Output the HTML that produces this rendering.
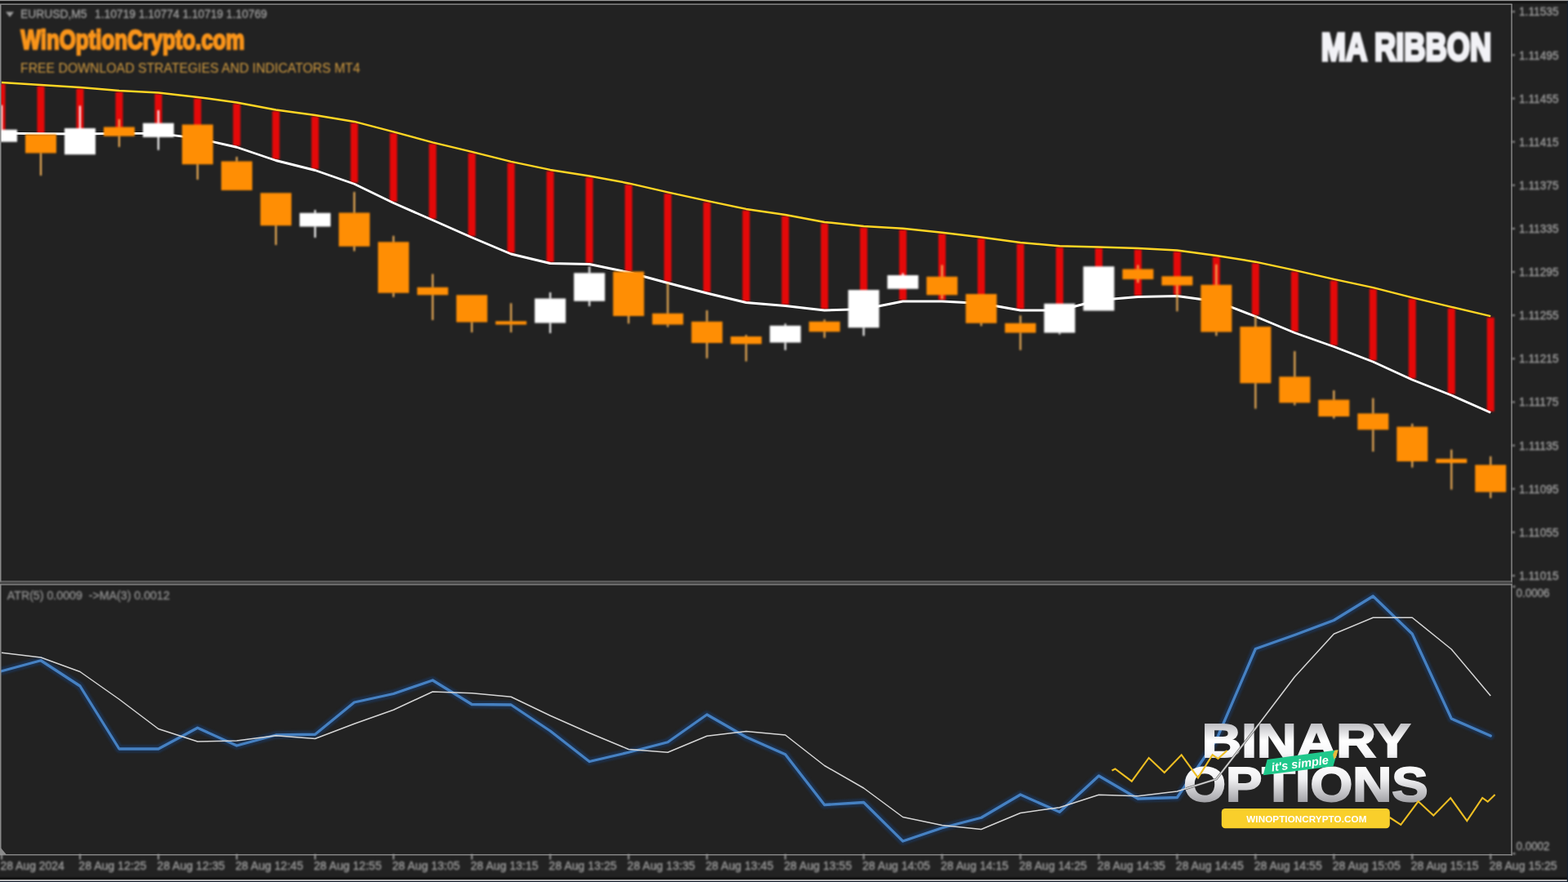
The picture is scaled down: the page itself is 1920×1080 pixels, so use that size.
<!DOCTYPE html>
<html lang="en"><head><meta charset="utf-8"><title>MA RIBBON - EURUSD,M5</title>
<style>
html,body{margin:0;padding:0;background:#222222;overflow:hidden}
body{width:1920px;height:1080px;position:relative}
svg{position:absolute;left:0;top:0;display:block}
text{font-family:"Liberation Sans","DejaVu Sans",sans-serif}
.ax{fill:#9E9E9E;font-size:14.4px;stroke:#9E9E9E;stroke-width:0.35px}
.imp{font-family:"Liberation Sans","DejaVu Sans",sans-serif;font-weight:700}
</style></head><body>
<svg width="1920" height="1080" viewBox="0 0 1920 1080">
<defs>
<linearGradient id="g1" x1="0" y1="0" x2="0" y2="1"><stop offset="0.12" stop-color="#b4b4b9"/><stop offset="0.5" stop-color="#ffffff"/><stop offset="0.75" stop-color="#f6f6f8"/><stop offset="0.95" stop-color="#c4c4c8"/></linearGradient>
<linearGradient id="g2" x1="0" y1="0" x2="0" y2="1"><stop offset="0.1" stop-color="#ffffff"/><stop offset="0.4" stop-color="#f0f0f2"/><stop offset="0.95" stop-color="#8e8e93"/></linearGradient>
<clipPath id="cm"><rect x="0" y="6" width="1851" height="706"/></clipPath>
<filter id="bl" x="0" y="0" width="1920" height="1080" filterUnits="userSpaceOnUse" color-interpolation-filters="sRGB"><feGaussianBlur stdDeviation="0.8"/></filter>
</defs>
<rect width="1920" height="1080" fill="#222222"/>
<g filter="url(#bl)">
<g clip-path="url(#cm)">
<rect x="-2.5" y="102.5" width="9" height="60.6" fill="#E40909"/>
<rect x="45.48" y="105.5" width="9" height="58.3" fill="#E40909"/>
<rect x="93.46" y="108.5" width="9" height="55.5" fill="#E40909"/>
<rect x="141.44" y="112.5" width="9" height="50.9" fill="#E40909"/>
<rect x="189.42" y="115" width="9" height="48.4" fill="#E40909"/>
<rect x="237.4" y="120.5" width="9" height="48.9" fill="#E40909"/>
<rect x="285.38" y="127" width="9" height="51.75" fill="#E40909"/>
<rect x="333.36" y="136" width="9" height="59" fill="#E40909"/>
<rect x="381.34" y="142.5" width="9" height="64.5" fill="#E40909"/>
<rect x="429.32" y="150.5" width="9" height="73.25" fill="#E40909"/>
<rect x="477.3" y="163" width="9" height="84" fill="#E40909"/>
<rect x="525.28" y="176" width="9" height="92" fill="#E40909"/>
<rect x="573.26" y="187.5" width="9" height="101.75" fill="#E40909"/>
<rect x="621.24" y="199.5" width="9" height="110" fill="#E40909"/>
<rect x="669.22" y="209.5" width="9" height="111.5" fill="#E40909"/>
<rect x="717.2" y="217" width="9" height="105" fill="#E40909"/>
<rect x="765.18" y="226" width="9" height="106" fill="#E40909"/>
<rect x="813.16" y="237" width="9" height="108" fill="#E40909"/>
<rect x="861.14" y="247.5" width="9" height="110" fill="#E40909"/>
<rect x="909.12" y="257.5" width="9" height="111.5" fill="#E40909"/>
<rect x="957.1" y="264.5" width="9" height="108.5" fill="#E40909"/>
<rect x="1005.08" y="273.5" width="9" height="105" fill="#E40909"/>
<rect x="1053.06" y="278.5" width="9" height="98.5" fill="#E40909"/>
<rect x="1101.04" y="281.25" width="9" height="86.25" fill="#E40909"/>
<rect x="1149.02" y="286.25" width="9" height="81.25" fill="#E40909"/>
<rect x="1197" y="292" width="9" height="78" fill="#E40909"/>
<rect x="1244.98" y="298.5" width="9" height="80" fill="#E40909"/>
<rect x="1292.96" y="302.75" width="9" height="75.75" fill="#E40909"/>
<rect x="1340.94" y="304" width="9" height="62" fill="#E40909"/>
<rect x="1388.92" y="305.5" width="9" height="56.5" fill="#E40909"/>
<rect x="1436.9" y="308" width="9" height="53" fill="#E40909"/>
<rect x="1484.88" y="314.5" width="9" height="53" fill="#E40909"/>
<rect x="1532.86" y="322.25" width="9" height="63.75" fill="#E40909"/>
<rect x="1580.84" y="332.5" width="9" height="73.5" fill="#E40909"/>
<rect x="1628.82" y="343.5" width="9" height="79.5" fill="#E40909"/>
<rect x="1676.8" y="353.75" width="9" height="87.75" fill="#E40909"/>
<rect x="1724.78" y="366" width="9" height="97.5" fill="#E40909"/>
<rect x="1772.76" y="377.5" width="9" height="105" fill="#E40909"/>
<rect x="1820.74" y="388.75" width="9" height="115" fill="#E40909"/>
</g></g>
<g clip-path="url(#cm)">
<polyline points="2,100.9 49.98,103.9 97.96,106.9 145.94,110.9 193.92,113.4 241.9,118.9 289.88,125.4 337.86,134.4 385.84,140.9 433.82,148.9 481.8,161.4 529.78,174.4 577.76,185.9 625.74,197.9 673.72,207.9 721.7,215.4 769.68,224.4 817.66,235.4 865.64,245.9 913.62,255.9 961.6,262.9 1009.58,271.9 1057.56,276.9 1105.54,279.65 1153.52,284.65 1201.5,290.4 1249.48,296.9 1297.46,301.15 1345.44,302.4 1393.42,303.9 1441.4,306.4 1489.38,312.9 1537.36,320.65 1585.34,330.9 1633.32,341.9 1681.3,352.15 1729.28,364.4 1777.26,375.9 1825.24,387.15" fill="none" stroke="#FFD524" stroke-width="2.5" stroke-linejoin="round"/>
<polyline points="2,163.1 49.98,163.8 97.96,164 145.94,163.4 193.92,163.4 241.9,169.4 289.88,180.25 337.86,196.5 385.84,208.5 433.82,225.25 481.8,248.5 529.78,269.5 577.76,290.75 625.74,311 673.72,322.5 721.7,323.5 769.68,333.5 817.66,346.5 865.64,359 913.62,370.5 961.6,374.5 1009.58,380 1057.56,378.5 1105.54,369 1153.52,369 1201.5,371.5 1249.48,380 1297.46,380 1345.44,367.5 1393.42,363.5 1441.4,362.5 1489.38,369 1537.36,387.5 1585.34,407.5 1633.32,424.5 1681.3,443 1729.28,465 1777.26,484 1825.24,505.25" fill="none" stroke="#FFFFFF" stroke-width="2.9" stroke-linejoin="round"/>
</g>
<g filter="url(#bl)">
<g clip-path="url(#cm)">
<rect x="0.95" y="128.75" width="2.1" height="30" fill="#FFFFFF"/>
<rect x="-17" y="158.75" width="38" height="15" fill="#FFFFFF"/>
<rect x="48.93" y="187.5" width="2.1" height="27.5" fill="#F6B458"/>
<rect x="30.98" y="164.5" width="38" height="23" fill="#FF8E04"/>
<rect x="96.91" y="129.5" width="2.1" height="27.5" fill="#FFFFFF"/>
<rect x="78.96" y="157" width="38" height="32.25" fill="#FFFFFF"/>
<rect x="144.89" y="146" width="2.1" height="9.5" fill="#F6B458"/>
<rect x="144.89" y="166.75" width="2.1" height="13.25" fill="#F6B458"/>
<rect x="126.94" y="155.5" width="38" height="11.25" fill="#FF8E04"/>
<rect x="192.87" y="135" width="2.1" height="15.75" fill="#FFFFFF"/>
<rect x="192.87" y="168" width="2.1" height="15.75" fill="#FFFFFF"/>
<rect x="174.92" y="150.75" width="38" height="17.25" fill="#FFFFFF"/>
<rect x="240.85" y="201.25" width="2.1" height="18.75" fill="#F6B458"/>
<rect x="222.9" y="152.5" width="38" height="48.75" fill="#FF8E04"/>
<rect x="288.83" y="192" width="2.1" height="5.5" fill="#F6B458"/>
<rect x="270.88" y="197.5" width="38" height="35.5" fill="#FF8E04"/>
<rect x="336.81" y="276.25" width="2.1" height="23.75" fill="#F6B458"/>
<rect x="318.86" y="236.25" width="38" height="40" fill="#FF8E04"/>
<rect x="384.79" y="257" width="2.1" height="3.75" fill="#FFFFFF"/>
<rect x="384.79" y="277.5" width="2.1" height="13.5" fill="#FFFFFF"/>
<rect x="366.84" y="260.75" width="38" height="16.75" fill="#FFFFFF"/>
<rect x="432.77" y="235" width="2.1" height="25.5" fill="#F6B458"/>
<rect x="432.77" y="301.75" width="2.1" height="5.75" fill="#F6B458"/>
<rect x="414.82" y="260.5" width="38" height="41.25" fill="#FF8E04"/>
<rect x="480.75" y="288.75" width="2.1" height="7.5" fill="#F6B458"/>
<rect x="480.75" y="358.75" width="2.1" height="5" fill="#F6B458"/>
<rect x="462.8" y="296.25" width="38" height="62.5" fill="#FF8E04"/>
<rect x="528.73" y="335.5" width="2.1" height="16.25" fill="#F6B458"/>
<rect x="528.73" y="361.25" width="2.1" height="30.75" fill="#F6B458"/>
<rect x="510.78" y="351.75" width="38" height="9.5" fill="#FF8E04"/>
<rect x="576.71" y="394.5" width="2.1" height="12.5" fill="#F6B458"/>
<rect x="558.76" y="361.25" width="38" height="33.25" fill="#FF8E04"/>
<rect x="624.69" y="371.25" width="2.1" height="22" fill="#F6B458"/>
<rect x="624.69" y="397.5" width="2.1" height="9.5" fill="#F6B458"/>
<rect x="606.74" y="393.25" width="38" height="4.25" fill="#FF8E04"/>
<rect x="672.67" y="358" width="2.1" height="7.5" fill="#FFFFFF"/>
<rect x="672.67" y="395.5" width="2.1" height="12.5" fill="#FFFFFF"/>
<rect x="654.72" y="365.5" width="38" height="30" fill="#FFFFFF"/>
<rect x="720.65" y="326.25" width="2.1" height="8" fill="#FFFFFF"/>
<rect x="720.65" y="368.75" width="2.1" height="6.25" fill="#FFFFFF"/>
<rect x="702.7" y="334.25" width="38" height="34.5" fill="#FFFFFF"/>
<rect x="768.63" y="387" width="2.1" height="9.25" fill="#F6B458"/>
<rect x="750.68" y="332.5" width="38" height="54.5" fill="#FF8E04"/>
<rect x="816.61" y="346.25" width="2.1" height="37.5" fill="#F6B458"/>
<rect x="816.61" y="397.5" width="2.1" height="3" fill="#F6B458"/>
<rect x="798.66" y="383.75" width="38" height="13.75" fill="#FF8E04"/>
<rect x="864.59" y="380" width="2.1" height="13.75" fill="#F6B458"/>
<rect x="864.59" y="420" width="2.1" height="18.75" fill="#F6B458"/>
<rect x="846.64" y="393.75" width="38" height="26.25" fill="#FF8E04"/>
<rect x="912.57" y="410" width="2.1" height="2" fill="#F6B458"/>
<rect x="912.57" y="421.25" width="2.1" height="21.25" fill="#F6B458"/>
<rect x="894.62" y="412" width="38" height="9.25" fill="#FF8E04"/>
<rect x="960.55" y="396.25" width="2.1" height="2.5" fill="#FFFFFF"/>
<rect x="960.55" y="419.5" width="2.1" height="9.25" fill="#FFFFFF"/>
<rect x="942.6" y="398.75" width="38" height="20.75" fill="#FFFFFF"/>
<rect x="1008.53" y="391.25" width="2.1" height="2.5" fill="#F6B458"/>
<rect x="1008.53" y="406.25" width="2.1" height="7.5" fill="#F6B458"/>
<rect x="990.58" y="393.75" width="38" height="12.5" fill="#FF8E04"/>
<rect x="1056.51" y="401.25" width="2.1" height="10" fill="#FFFFFF"/>
<rect x="1038.56" y="355" width="38" height="46.25" fill="#FFFFFF"/>
<rect x="1104.49" y="334.5" width="2.1" height="2.5" fill="#FFFFFF"/>
<rect x="1086.54" y="337" width="38" height="16.75" fill="#FFFFFF"/>
<rect x="1152.47" y="324.5" width="2.1" height="14.25" fill="#F6B458"/>
<rect x="1152.47" y="361.25" width="2.1" height="5" fill="#F6B458"/>
<rect x="1134.52" y="338.75" width="38" height="22.5" fill="#FF8E04"/>
<rect x="1200.45" y="395.75" width="2.1" height="3.5" fill="#F6B458"/>
<rect x="1182.5" y="360" width="38" height="35.75" fill="#FF8E04"/>
<rect x="1248.43" y="386.25" width="2.1" height="9.5" fill="#F6B458"/>
<rect x="1248.43" y="407.5" width="2.1" height="21.25" fill="#F6B458"/>
<rect x="1230.48" y="395.75" width="38" height="11.75" fill="#FF8E04"/>
<rect x="1296.41" y="407.5" width="2.1" height="2" fill="#FFFFFF"/>
<rect x="1278.46" y="371.75" width="38" height="35.75" fill="#FFFFFF"/>
<rect x="1326.44" y="326.25" width="38" height="54.25" fill="#FFFFFF"/>
<rect x="1392.37" y="324.5" width="2.1" height="5" fill="#F6B458"/>
<rect x="1392.37" y="342" width="2.1" height="4.25" fill="#F6B458"/>
<rect x="1374.42" y="329.5" width="38" height="12.5" fill="#FF8E04"/>
<rect x="1440.35" y="349.5" width="2.1" height="31.75" fill="#F6B458"/>
<rect x="1422.4" y="338.25" width="38" height="11.25" fill="#FF8E04"/>
<rect x="1488.33" y="323.75" width="2.1" height="25" fill="#F6B458"/>
<rect x="1488.33" y="406.5" width="2.1" height="4.75" fill="#F6B458"/>
<rect x="1470.38" y="348.75" width="38" height="57.75" fill="#FF8E04"/>
<rect x="1536.31" y="386.5" width="2.1" height="13.5" fill="#F6B458"/>
<rect x="1536.31" y="469.25" width="2.1" height="31.25" fill="#F6B458"/>
<rect x="1518.36" y="400" width="38" height="69.25" fill="#FF8E04"/>
<rect x="1584.29" y="430" width="2.1" height="31.25" fill="#F6B458"/>
<rect x="1584.29" y="493.25" width="2.1" height="3" fill="#F6B458"/>
<rect x="1566.34" y="461.25" width="38" height="32" fill="#FF8E04"/>
<rect x="1632.27" y="478" width="2.1" height="11.5" fill="#F6B458"/>
<rect x="1632.27" y="510" width="2.1" height="2.5" fill="#F6B458"/>
<rect x="1614.32" y="489.5" width="38" height="20.5" fill="#FF8E04"/>
<rect x="1680.25" y="487.5" width="2.1" height="18.75" fill="#F6B458"/>
<rect x="1680.25" y="526.25" width="2.1" height="26.75" fill="#F6B458"/>
<rect x="1662.3" y="506.25" width="38" height="20" fill="#FF8E04"/>
<rect x="1728.23" y="518.75" width="2.1" height="3.75" fill="#F6B458"/>
<rect x="1728.23" y="565" width="2.1" height="7.5" fill="#F6B458"/>
<rect x="1710.28" y="522.5" width="38" height="42.5" fill="#FF8E04"/>
<rect x="1776.21" y="550.5" width="2.1" height="11.25" fill="#F6B458"/>
<rect x="1776.21" y="567" width="2.1" height="32.5" fill="#F6B458"/>
<rect x="1758.26" y="561.75" width="38" height="5.25" fill="#FF8E04"/>
<rect x="1824.19" y="558.75" width="2.1" height="10.5" fill="#F6B458"/>
<rect x="1824.19" y="602.5" width="2.1" height="7.5" fill="#F6B458"/>
<rect x="1806.24" y="569.25" width="38" height="33.25" fill="#FF8E04"/>
</g>
<polyline points="2,821.75 49.98,808.75 97.96,840 145.94,917 193.92,917 241.9,891.25 289.88,913 337.86,900 385.84,899.25 433.82,860 481.8,849.5 529.78,833 577.76,862.5 625.74,863 673.72,895 721.7,932.5 769.68,921.25 817.66,908.75 865.64,875 913.62,902.5 961.6,923.75 1009.58,985.5 1057.56,982.5 1105.54,1030 1153.52,1013.75 1201.5,1001.25 1249.48,973 1297.46,994.25 1345.44,950 1393.42,978 1441.4,976.5 1489.38,906 1537.36,794.5 1585.34,777.5 1633.32,759.5 1681.3,730 1729.28,776.25 1777.26,880 1825.24,901" fill="none" stroke="#1d3352" stroke-opacity="0.8" stroke-width="9.5" stroke-linejoin="round" stroke-linecap="round"/>
</g>
<polyline points="2,821.75 49.98,808.75 97.96,840 145.94,917 193.92,917 241.9,891.25 289.88,913 337.86,900 385.84,899.25 433.82,860 481.8,849.5 529.78,833 577.76,862.5 625.74,863 673.72,895 721.7,932.5 769.68,921.25 817.66,908.75 865.64,875 913.62,902.5 961.6,923.75 1009.58,985.5 1057.56,982.5 1105.54,1030 1153.52,1013.75 1201.5,1001.25 1249.48,973 1297.46,994.25 1345.44,950 1393.42,978 1441.4,976.5 1489.38,906 1537.36,794.5 1585.34,777.5 1633.32,759.5 1681.3,730 1729.28,776.25 1777.26,880 1825.24,901" fill="none" stroke="#4681C2" stroke-width="3.3" stroke-linejoin="round" stroke-linecap="round"/>
<g filter="url(#bl)">
</g>
<rect x="0" y="0" width="1920" height="1.3" fill="#9c9c9c"/>
<rect x="0" y="1.3" width="1920" height="3" fill="#141414"/>
<rect x="0" y="4.5" width="1851.6" height="1.4" fill="#8A8A8A"/>
<rect x="0" y="5" width="1.5" height="1042" fill="#8A8A8A"/>
<rect x="1850.3" y="5" width="1.4" height="1042.6" fill="#8A8A8A"/>
<rect x="0" y="711.4" width="1851.6" height="1.2" fill="#8A8A8A"/>
<rect x="0" y="712.6" width="1851.6" height="2.6" fill="#484848"/>
<rect x="0" y="715.2" width="1851.6" height="1.3" fill="#8A8A8A"/>
<rect x="0" y="1046" width="1851.6" height="1.4" fill="#8A8A8A"/>
<polygon points="0,1037 0,1046 7.5,1046" fill="#8a8a8a"/>
<rect x="0" y="1073.8" width="1920" height="3.6" fill="#141414"/>
<rect x="0" y="1077.3" width="1919" height="1.6" fill="#f2f2f2"/>
<rect x="0" y="1078.9" width="1920" height="1.1" fill="#101828"/>
<rect x="1918.8" y="1.3" width="1.2" height="1079" fill="#14202e"/>
<g filter="url(#bl)">
<rect x="1851.5" y="13.4" width="3.4" height="1.8" fill="#A8A8A8"/>
<text class="ax" x="1860" y="19.4" textLength="48.5" lengthAdjust="spacingAndGlyphs">1.11535</text>
<rect x="1851.5" y="66.52" width="3.4" height="1.8" fill="#A8A8A8"/>
<text class="ax" x="1860" y="72.52" textLength="48.5" lengthAdjust="spacingAndGlyphs">1.11495</text>
<rect x="1851.5" y="119.64" width="3.4" height="1.8" fill="#A8A8A8"/>
<text class="ax" x="1860" y="125.64" textLength="48.5" lengthAdjust="spacingAndGlyphs">1.11455</text>
<rect x="1851.5" y="172.76" width="3.4" height="1.8" fill="#A8A8A8"/>
<text class="ax" x="1860" y="178.76" textLength="48.5" lengthAdjust="spacingAndGlyphs">1.11415</text>
<rect x="1851.5" y="225.88" width="3.4" height="1.8" fill="#A8A8A8"/>
<text class="ax" x="1860" y="231.88" textLength="48.5" lengthAdjust="spacingAndGlyphs">1.11375</text>
<rect x="1851.5" y="279" width="3.4" height="1.8" fill="#A8A8A8"/>
<text class="ax" x="1860" y="285" textLength="48.5" lengthAdjust="spacingAndGlyphs">1.11335</text>
<rect x="1851.5" y="332.12" width="3.4" height="1.8" fill="#A8A8A8"/>
<text class="ax" x="1860" y="338.12" textLength="48.5" lengthAdjust="spacingAndGlyphs">1.11295</text>
<rect x="1851.5" y="385.24" width="3.4" height="1.8" fill="#A8A8A8"/>
<text class="ax" x="1860" y="391.24" textLength="48.5" lengthAdjust="spacingAndGlyphs">1.11255</text>
<rect x="1851.5" y="438.36" width="3.4" height="1.8" fill="#A8A8A8"/>
<text class="ax" x="1860" y="444.36" textLength="48.5" lengthAdjust="spacingAndGlyphs">1.11215</text>
<rect x="1851.5" y="491.48" width="3.4" height="1.8" fill="#A8A8A8"/>
<text class="ax" x="1860" y="497.48" textLength="48.5" lengthAdjust="spacingAndGlyphs">1.11175</text>
<rect x="1851.5" y="544.6" width="3.4" height="1.8" fill="#A8A8A8"/>
<text class="ax" x="1860" y="550.6" textLength="48.5" lengthAdjust="spacingAndGlyphs">1.11135</text>
<rect x="1851.5" y="597.72" width="3.4" height="1.8" fill="#A8A8A8"/>
<text class="ax" x="1860" y="603.72" textLength="48.5" lengthAdjust="spacingAndGlyphs">1.11095</text>
<rect x="1851.5" y="650.84" width="3.4" height="1.8" fill="#A8A8A8"/>
<text class="ax" x="1860" y="656.84" textLength="48.5" lengthAdjust="spacingAndGlyphs">1.11055</text>
<rect x="1851.5" y="703.96" width="3.4" height="1.8" fill="#A8A8A8"/>
<text class="ax" x="1860" y="709.96" textLength="48.5" lengthAdjust="spacingAndGlyphs">1.11015</text>
<rect x="1852" y="717.4" width="3.5" height="1.8" fill="#A8A8A8"/>
<text class="ax" x="1856.5" y="731" textLength="41" lengthAdjust="spacingAndGlyphs">0.0006</text>
<rect x="1852" y="1044.4" width="3.5" height="1.8" fill="#A8A8A8"/>
<text class="ax" x="1856.5" y="1041.2" textLength="41" lengthAdjust="spacingAndGlyphs">0.0002</text>
<rect x="1.1" y="1046" width="1.8" height="6.5" fill="#A8A8A8"/>
<text class="ax" x="0.4" y="1065.2" style="font-size:14.5px" textLength="78.5" lengthAdjust="spacingAndGlyphs">28 Aug 2024</text>
<rect x="97.06" y="1046" width="1.8" height="6.5" fill="#A8A8A8"/>
<text class="ax" x="96.36" y="1065.2" style="font-size:14.5px" textLength="83" lengthAdjust="spacingAndGlyphs">28 Aug 12:25</text>
<rect x="193.02" y="1046" width="1.8" height="6.5" fill="#A8A8A8"/>
<text class="ax" x="192.32" y="1065.2" style="font-size:14.5px" textLength="83" lengthAdjust="spacingAndGlyphs">28 Aug 12:35</text>
<rect x="288.98" y="1046" width="1.8" height="6.5" fill="#A8A8A8"/>
<text class="ax" x="288.28" y="1065.2" style="font-size:14.5px" textLength="83" lengthAdjust="spacingAndGlyphs">28 Aug 12:45</text>
<rect x="384.94" y="1046" width="1.8" height="6.5" fill="#A8A8A8"/>
<text class="ax" x="384.24" y="1065.2" style="font-size:14.5px" textLength="83" lengthAdjust="spacingAndGlyphs">28 Aug 12:55</text>
<rect x="480.9" y="1046" width="1.8" height="6.5" fill="#A8A8A8"/>
<text class="ax" x="480.2" y="1065.2" style="font-size:14.5px" textLength="83" lengthAdjust="spacingAndGlyphs">28 Aug 13:05</text>
<rect x="576.86" y="1046" width="1.8" height="6.5" fill="#A8A8A8"/>
<text class="ax" x="576.16" y="1065.2" style="font-size:14.5px" textLength="83" lengthAdjust="spacingAndGlyphs">28 Aug 13:15</text>
<rect x="672.82" y="1046" width="1.8" height="6.5" fill="#A8A8A8"/>
<text class="ax" x="672.12" y="1065.2" style="font-size:14.5px" textLength="83" lengthAdjust="spacingAndGlyphs">28 Aug 13:25</text>
<rect x="768.78" y="1046" width="1.8" height="6.5" fill="#A8A8A8"/>
<text class="ax" x="768.08" y="1065.2" style="font-size:14.5px" textLength="83" lengthAdjust="spacingAndGlyphs">28 Aug 13:35</text>
<rect x="864.74" y="1046" width="1.8" height="6.5" fill="#A8A8A8"/>
<text class="ax" x="864.04" y="1065.2" style="font-size:14.5px" textLength="83" lengthAdjust="spacingAndGlyphs">28 Aug 13:45</text>
<rect x="960.7" y="1046" width="1.8" height="6.5" fill="#A8A8A8"/>
<text class="ax" x="960" y="1065.2" style="font-size:14.5px" textLength="83" lengthAdjust="spacingAndGlyphs">28 Aug 13:55</text>
<rect x="1056.66" y="1046" width="1.8" height="6.5" fill="#A8A8A8"/>
<text class="ax" x="1055.96" y="1065.2" style="font-size:14.5px" textLength="83" lengthAdjust="spacingAndGlyphs">28 Aug 14:05</text>
<rect x="1152.62" y="1046" width="1.8" height="6.5" fill="#A8A8A8"/>
<text class="ax" x="1151.92" y="1065.2" style="font-size:14.5px" textLength="83" lengthAdjust="spacingAndGlyphs">28 Aug 14:15</text>
<rect x="1248.58" y="1046" width="1.8" height="6.5" fill="#A8A8A8"/>
<text class="ax" x="1247.88" y="1065.2" style="font-size:14.5px" textLength="83" lengthAdjust="spacingAndGlyphs">28 Aug 14:25</text>
<rect x="1344.54" y="1046" width="1.8" height="6.5" fill="#A8A8A8"/>
<text class="ax" x="1343.84" y="1065.2" style="font-size:14.5px" textLength="83" lengthAdjust="spacingAndGlyphs">28 Aug 14:35</text>
<rect x="1440.5" y="1046" width="1.8" height="6.5" fill="#A8A8A8"/>
<text class="ax" x="1439.8" y="1065.2" style="font-size:14.5px" textLength="83" lengthAdjust="spacingAndGlyphs">28 Aug 14:45</text>
<rect x="1536.46" y="1046" width="1.8" height="6.5" fill="#A8A8A8"/>
<text class="ax" x="1535.76" y="1065.2" style="font-size:14.5px" textLength="83" lengthAdjust="spacingAndGlyphs">28 Aug 14:55</text>
<rect x="1632.42" y="1046" width="1.8" height="6.5" fill="#A8A8A8"/>
<text class="ax" x="1631.72" y="1065.2" style="font-size:14.5px" textLength="83" lengthAdjust="spacingAndGlyphs">28 Aug 15:05</text>
<rect x="1728.38" y="1046" width="1.8" height="6.5" fill="#A8A8A8"/>
<text class="ax" x="1727.68" y="1065.2" style="font-size:14.5px" textLength="83" lengthAdjust="spacingAndGlyphs">28 Aug 15:15</text>
<rect x="1824.34" y="1046" width="1.8" height="6.5" fill="#A8A8A8"/>
<text class="ax" x="1823.64" y="1065.2" style="font-size:14.5px" textLength="83" lengthAdjust="spacingAndGlyphs">28 Aug 15:25</text>
<polygon points="7,14.6 17,14.6 12,21" fill="#a0a0a0"/>
<text class="ax" x="25" y="22.4" textLength="81.5" lengthAdjust="spacingAndGlyphs">EURUSD,M5</text>
<text class="ax" x="116" y="22.4" textLength="211" lengthAdjust="spacingAndGlyphs" xml:space="preserve">1.10719 1.10774 1.10719 1.10769</text>
<text class="ax" x="8.8" y="734.4" fill="#7e7e7e" style="fill:#8e8e8e;stroke:#8e8e8e" textLength="199" lengthAdjust="spacingAndGlyphs" xml:space="preserve">ATR(5) 0.0009  -&gt;MA(3) 0.0012</text>
<text class="imp" x="25.6" y="60.2" font-size="34" fill="#F9941A" stroke="#F9941A" stroke-width="2.3" stroke-linejoin="miter" textLength="274" lengthAdjust="spacingAndGlyphs">WinOptionCrypto.com</text>
<text x="25" y="88.6" font-size="17.4" fill="#D29C40" textLength="416" lengthAdjust="spacingAndGlyphs">FREE DOWNLOAD STRATEGIES AND INDICATORS MT4</text>
<text class="imp" x="1617.8" y="74" font-size="48.4" fill="#F2F2F6" stroke="#F2F2F6" stroke-width="3.6" stroke-linejoin="miter" textLength="208.4" lengthAdjust="spacingAndGlyphs">MA RIBBON</text>
</g>
<text class="imp" x="1471.7" y="927" font-size="57.5" fill="url(#g1)" stroke="url(#g1)" stroke-width="2" stroke-linejoin="miter" textLength="255.6" lengthAdjust="spacingAndGlyphs">BINARY</text>
<text class="imp" x="1449.3" y="981" font-size="58.5" fill="url(#g2)" stroke="url(#g2)" stroke-width="2" stroke-linejoin="miter" textLength="299.2" lengthAdjust="spacingAndGlyphs">OPTIONS</text>
<clipPath id="cl"><rect x="1452" y="886" width="112" height="98"/></clipPath>
<polyline clip-path="url(#cl)" points="2,799.25 49.98,805 97.96,822.5 145.94,856.25 193.92,892.5 241.9,908 289.88,907 337.86,900.75 385.84,904.5 433.82,886.25 481.8,869.25 529.78,847 577.76,848.75 625.74,853.25 673.72,876.25 721.7,897.5 769.68,917.5 817.66,921.25 865.64,901.25 913.62,895.5 961.6,900 1009.58,937.5 1057.56,965 1105.54,1000.5 1153.52,1010.5 1201.5,1015.5 1249.48,995.5 1297.46,988.75 1345.44,973.25 1393.42,974.7 1441.4,969 1489.38,954 1537.36,892 1585.34,828.75 1633.32,776.25 1681.3,756.25 1729.28,756.25 1777.26,795 1825.24,852" fill="none" stroke="#5a5a5a" stroke-width="2.8" stroke-linejoin="round"/>
<polyline points="2,799.25 49.98,805 97.96,822.5 145.94,856.25 193.92,892.5 241.9,908 289.88,907 337.86,900.75 385.84,904.5 433.82,886.25 481.8,869.25 529.78,847 577.76,848.75 625.74,853.25 673.72,876.25 721.7,897.5 769.68,917.5 817.66,921.25 865.64,901.25 913.62,895.5 961.6,900 1009.58,937.5 1057.56,965 1105.54,1000.5 1153.52,1010.5 1201.5,1015.5 1249.48,995.5 1297.46,988.75 1345.44,973.25 1393.42,974.7 1441.4,969 1489.38,954 1537.36,892 1585.34,828.75 1633.32,776.25 1681.3,756.25 1729.28,756.25 1777.26,795 1825.24,852" fill="none" stroke="#D6D6D6" stroke-width="1.5" stroke-linejoin="round"/>
<polyline points="1361.5,943.5 1365.5,941.5 1385.8,956.7 1406.7,928 1425.8,946 1446.7,924.3 1467,952.4 1484.7,924.3 1491.5,929 1502.6,919" fill="none" stroke="#EDBE23" stroke-width="2.1" stroke-linejoin="miter"/>
<polyline points="1701.7,1001 1715.3,1009.8 1736.6,981.3 1755.3,998.5 1776.2,977.1 1796.3,1005.2 1815.2,977 1821.7,981.7 1830.6,973" fill="none" stroke="#EDBE23" stroke-width="2.1" stroke-linejoin="miter"/>
<polygon points="1551.7,930 1638.3,918.3 1632.5,938.3 1546.7,949.2" fill="#1FC88B"/>
<polygon points="1634.5,918.8 1638.5,918.2 1636.5,926 1633.5,930 1632.2,924" fill="#E9B93A"/>
<text x="0" y="0" font-size="14.2" font-style="italic" font-weight="700" fill="#ffffff" transform="translate(1557.5,944.6) rotate(-7.6)" textLength="70.5" lengthAdjust="spacingAndGlyphs">it's simple</text>
<rect x="1495.8" y="990" width="206" height="24.3" rx="4.5" fill="#F9CF2B"/>
<text x="1526.3" y="1006.6" font-size="11.6" font-weight="700" fill="#ffffff" textLength="147" lengthAdjust="spacing">WINOPTIONCRYPTO.COM</text>
</svg>
</body></html>
